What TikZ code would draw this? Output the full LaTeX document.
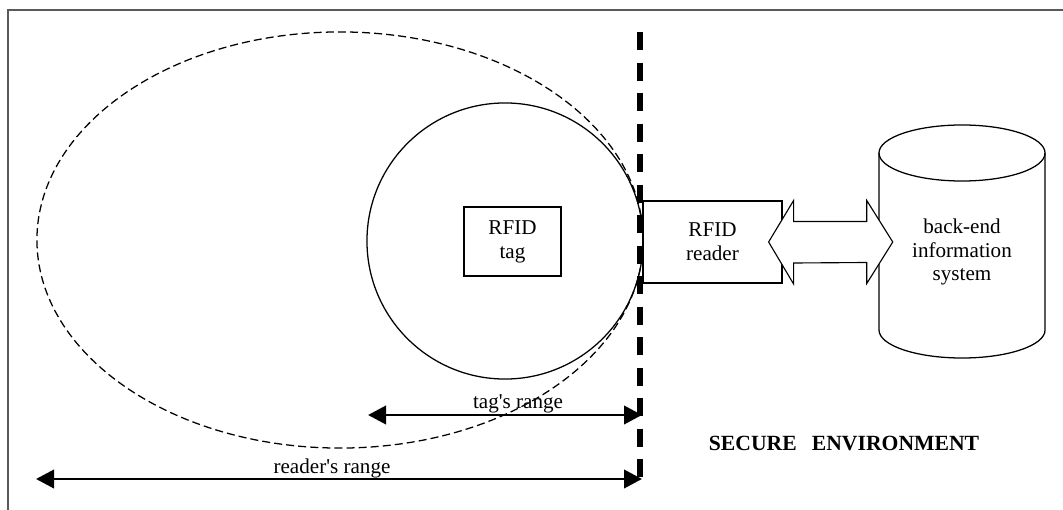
\documentclass[tikz,border=0pt]{standalone}
\usepackage{fontspec}
\setmainfont{Liberation Serif}
\usetikzlibrary{arrows.meta,calc}

\begin{document}
\begin{tikzpicture}[x = 0.025cm, y = -0.025cm, >= {Triangle[length=12.8pt, width=13pt]},
    font = \fontsize{15}{17}\selectfont,
    box/.style = {draw, line width=0.8pt, fill=white, align=center, inner sep=0pt},
    rangearrow/.style = {<->, line width=2.1pt}]
  \useasboundingbox (0, 0) rectangle (1063, 510);
  \draw[line width=1.4pt, black!65] (1063, 10) -- (8, 10) -- (8, 510);
  % ranges
  \draw[dash pattern=on 5.7pt off 2.9pt, line width=0.9pt] (340, 240) ellipse [x radius=7.575cm, y radius=5.2cm];
  \draw[line width=0.9pt] (505, 241) circle [radius=3.45cm];
  \node[box, minimum width=69pt, minimum height=49pt] (tag) at (512.5, 241.5) {RFID\\tag};
  \node[box, minimum width=98.9pt, minimum height=58.3pt] (reader) at (712.5, 242) {RFID\\reader};
  % database
  \draw[line width=0.9pt, fill=white] (879, 153) -- (879, 330)
    arc[start angle=180, end angle=360, x radius=2.075cm, y radius=0.7cm] -- (1045, 153);
  \draw[line width=0.9pt] (962, 153) ellipse [x radius=2.075cm, y radius=0.7cm];
  \node[align=center, minimum width=118pt, inner sep=0pt] (backend) at (962, 252) {back-end\\information\\system};
  % link
  \coordinate (la) at ($(reader.east) + (-14, 0)$);
  \coordinate (ra) at ($(backend.west |- reader.east) + (14, 0)$);
  \draw[line width=0.8pt, fill=white] (la) -- ++(25, -41.5) -- ++(0, 21) -- ($(ra) + (-26, -20.5)$)
    -- ++(0, -21) -- (ra) -- ++(-26, 41.5) -- ++(0, -21) -- ($(la) + (25, 21)$) -- ++(0, 21) -- cycle;
  % boundary
  \draw[line width=3.6pt, dash pattern=on 12.8pt off 8.9pt] (640, 32) coordinate (btop) -- (640, 480) coordinate (bbot);
  \draw[rangearrow] (368, 415) -- ($(btop |- 0, 415) + (2, 0)$);
  \draw[rangearrow] (36, 479) -- ($(btop |- 0, 479) + (2, 0)$);
  \node[anchor=base] (tagrange) at (518, 408) {tag\textquotesingle s range};
  \node[anchor=base] (readerrange) at (332, 473) {reader\textquotesingle s range};
  \node[anchor=base, font=\fontsize{15.4}{17}\selectfont\bfseries] (secure) at (844, 450) {SECURE\hspace{0.7em}ENVIRONMENT};
\end{tikzpicture}
\end{document}
